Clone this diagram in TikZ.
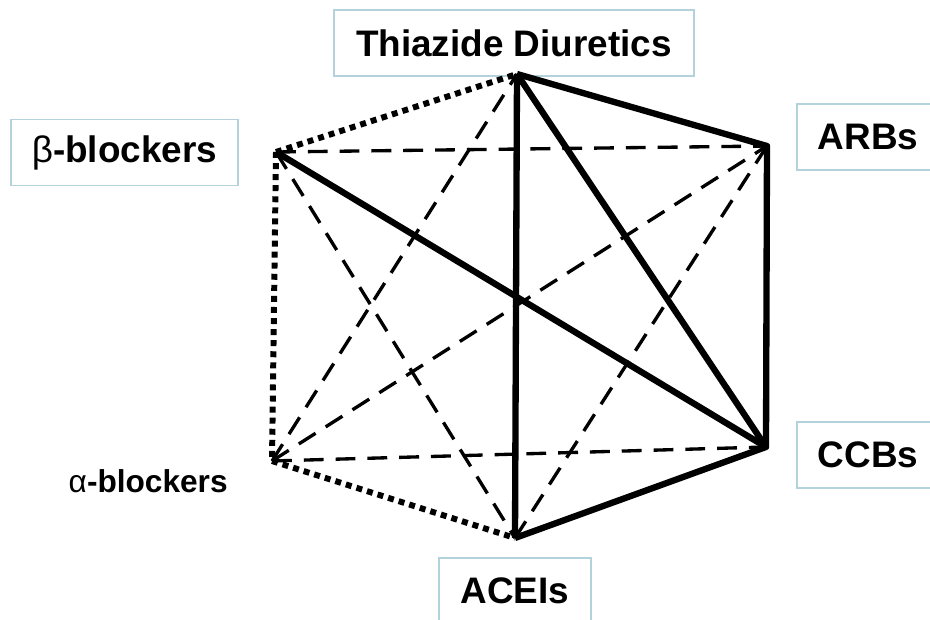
\documentclass[tikz,border=0pt]{standalone}
\usepackage{fontspec}
\setmainfont{Liberation Sans}
\definecolor{boxline}{RGB}{180,210,220}
\tikzset{
  drug/.style={
    rectangle,
    minimum height=1.32cm,
    align=center,
    draw=boxline,
    line width=0.9pt,
    font=\bfseries\fontsize{21}{25}\selectfont
    },
  strong/.style={line width=3.6pt, line join=round},
  weak/.style={line width=1.9pt, dash pattern=on 11.3pt off 6.8pt},
  poor/.style={line width=3.4pt, dash pattern=on 3.4pt off 2.9pt},
}

\begin{document}
\begin{tikzpicture}[x=0.2mm,y=-0.2mm]
\useasboundingbox (0,0) rectangle (930,620);
% labels
\node (thz) [drug, minimum width=7.2cm] at (514,43) {Thiazide Diuretics};
\node (beta) [drug, minimum width=4.54cm] at (124.5,152.5) {{\mdseries β}-blockers};
\node (arb) [drug, minimum width=2.84cm] at (868,137) {ARBs};
\node (ccb) [drug, minimum width=2.84cm] at (868,455) {CCBs};
\node (acei) [drug, minimum width=3.04cm] at (515,591) {ACEIs};
\node (alpha) [anchor=base east, inner sep=0pt, font=\bfseries\fontsize{18}{22}\selectfont] at (228,492) {{\mdseries α}-blockers};
% corners
\coordinate (T) at (517,74);
\coordinate (A) at (767,146);
\coordinate (C) at (766,447);
\coordinate (E) at (515,538);
\coordinate (L) at (272,461);
\coordinate (B) at (276,152);
% dashed
\draw [weak] (B) -- (A);
\draw [weak] (B) -- (E);
\draw [weak] (L) -- (T);
\draw [weak] (L) -- (A);
\draw [weak] (L) -- (C);
\draw [weak] (E) -- (A);
% dotted
\draw [poor] (B) -- (T);
\draw [poor] (B) -- (L);
\draw [poor] (L) -- (E);
% solid
\draw [strong] (B) -- (C);
\draw [strong] (T) -- (E);
\draw [strong] (T) -- (C);
\draw [strong] (T) -- (A) -- (C) -- (E);
\end{tikzpicture}
\end{document}
